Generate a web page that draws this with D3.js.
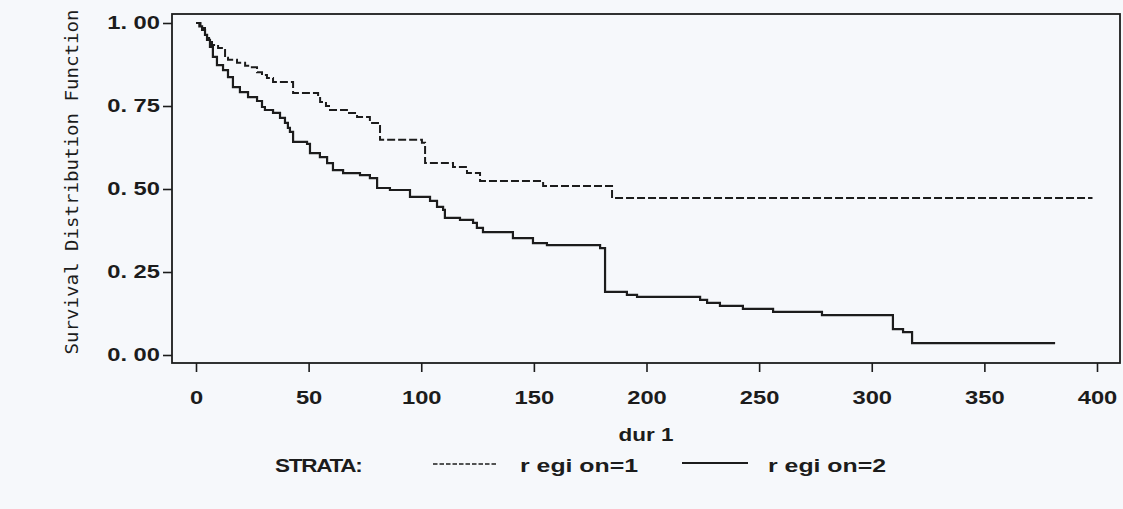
<!DOCTYPE html>
<html>
<head>
<meta charset="utf-8">
<script src="https://cdn.jsdelivr.net/npm/d3@7"></script>
<style>
  body { margin: 0; background: #f6f8fb; }
  svg { display: block; }
  text { font-family: "Liberation Sans", Arial, sans-serif; fill: #1c1c1c; }
</style>
</head>
<body>
<div id="chart"></div>
<script>
// tick values
const xTicks = [0, 50, 100, 150, 200, 250, 300, 350, 400];
const yTicks = [0, 0.25, 0.5, 0.75, 1];

// Kaplan-Meier steps (time, survival)
const region1Time = [0, 2, 3.1, 4.0, 4.9, 5.8, 7.1, 9.8, 11.5, 12.9, 14.2, 18.2, 21.8, 24.0, 27.1, 29.3, 31.5, 34.2,
  43.1, 54.2, 55.1, 57.7, 59.5, 67.0, 71.5, 77.2, 80.8, 81.7, 100.3, 101.7, 114.1, 120.3, 126.1, 154.1, 184.7, 398];
const region1Surv = [1, 0.992, 0.985, 0.970, 0.955, 0.943, 0.934, 0.925, 0.919, 0.895, 0.889, 0.880, 0.871, 0.867, 0.852, 0.843, 0.834, 0.822,
  0.789, 0.780, 0.762, 0.750, 0.738, 0.729, 0.717, 0.699, 0.690, 0.648, 0.639, 0.578, 0.566, 0.548, 0.524, 0.509, 0.473, 0.473];

const region2Time = [0, 1.5, 2.7, 4.0, 4.9, 6.2, 7.5, 9.3, 12.0, 14.2, 16.4, 19.5, 23.1, 27.1, 29.3, 30.6, 34.2, 37.3, 39.5, 40.8,
  41.7, 43.1, 49.3, 50.6, 55.0, 58.2, 60.8, 65.3, 72.8, 77.2, 80.4, 86.1, 95.0, 103.9, 107.0, 109.7, 110.5, 117.2, 123.0,
  124.7, 127.4, 140.7, 149.6, 155.8, 179.4, 181.6, 191.3, 195.8, 223.8, 226.9, 232.6, 242.8, 256.2, 277.9, 309.4, 313.9,
  317.9, 381.4];
const region2Surv = [1, 0.990, 0.979, 0.964, 0.949, 0.928, 0.898, 0.873, 0.858, 0.837, 0.807, 0.792, 0.777, 0.765, 0.747, 0.738, 0.729, 0.714, 0.699, 0.684,
  0.672, 0.642, 0.636, 0.608, 0.596, 0.578, 0.557, 0.548, 0.542, 0.533, 0.503, 0.497, 0.476, 0.464, 0.446, 0.437, 0.413, 0.407, 0.398,
  0.383, 0.370, 0.352, 0.337, 0.331, 0.322, 0.190, 0.181, 0.175, 0.166, 0.157, 0.148, 0.139, 0.130, 0.120, 0.078, 0.069,
  0.036, 0.036];

const strataTitle = 'STRATA:';
const strataLabels = ['r egi on=1', 'r egi on=2'];
const xTitle = 'dur 1';
const yTitle = 'Survival Distribution Function';

const width = 1123;
const height = 509;
const frame = { left: 172, right: 1120, top: 14, bottom: 363 };
const ink = '#1c1c1c';

const svg = d3.select('#chart')
  .append('svg')
  .attr('width', width)
  .attr('height', height);

const x = d3.scaleLinear().domain([0, 400]).range([196, 1097]);
const y = d3.scaleLinear().domain([0, 1]).range([355, 23]);

// y axis
const yAxis = svg.append('g')
  .attr('transform', `translate(${frame.left},0)`)
  .call(d3.axisLeft(y)
    .tickValues(yTicks)
    .tickSize(9)
    .tickPadding(3)
    .tickFormat(d => d3.format('.2f')(d).replace('.', '. ')));
yAxis.select('.domain').remove();
yAxis.selectAll('line').attr('stroke', ink).attr('stroke-width', 1.6);
yAxis.selectAll('text')
  .attr('x', -12 / 1.32)
  .attr('transform', 'scale(1.32,1)')
  .style('font-size', '18px')
  .style('font-weight', 'bold')
  .style('font-family', '"Liberation Sans", Arial, sans-serif')
  .attr('fill', ink);

// x axis
const xAxis = svg.append('g')
  .attr('transform', `translate(0,${frame.bottom})`)
  .call(d3.axisBottom(x)
    .tickValues(xTicks)
    .tickSize(9)
    .tickPadding(19));
xAxis.select('.domain').remove();
xAxis.selectAll('line').attr('stroke', ink).attr('stroke-width', 1.6);
xAxis.selectAll('text')
  .attr('transform', 'scale(1.32,1)')
  .style('font-size', '18px')
  .style('font-weight', 'bold')
  .style('font-family', '"Liberation Sans", Arial, sans-serif')
  .attr('fill', ink);

// frame
svg.append('rect')
  .attr('x', frame.left)
  .attr('y', frame.top)
  .attr('width', frame.right - frame.left)
  .attr('height', frame.bottom - frame.top)
  .attr('fill', 'none')
  .attr('stroke', ink)
  .attr('stroke-width', 1.8);

// survival curves
const step = d3.line()
  .x(d => x(d[0]))
  .y(d => y(d[1]))
  .curve(d3.curveStepAfter);

svg.append('path')
  .datum(d3.zip(region1Time, region1Surv))
  .attr('d', step)
  .attr('fill', 'none')
  .attr('stroke', ink)
  .attr('stroke-width', 2)
  .attr('stroke-dasharray', '8,3');

svg.append('path')
  .datum(d3.zip(region2Time, region2Surv))
  .attr('d', step)
  .attr('fill', 'none')
  .attr('stroke', ink)
  .attr('stroke-width', 2.2);

// axis titles
svg.append('text')
  .attr('transform', 'translate(78,182) rotate(-90)')
  .attr('text-anchor', 'middle')
  .attr('textLength', 345)
  .attr('lengthAdjust', 'spacingAndGlyphs')
  .style('font-family', '"DejaVu Sans Mono", monospace')
  .style('font-size', '18px')
  .attr('fill', '#2a2a2a')
  .text(yTitle);

svg.append('text')
  .attr('transform', `translate(${(frame.left + frame.right) / 2},441) scale(1.25,1)`)
  .attr('text-anchor', 'middle')
  .style('font-size', '18px')
  .style('font-weight', 'bold')
  .text(xTitle);

// legend
const legend = svg.append('g').attr('transform', 'translate(0,472)');
legend.append('text')
  .attr('transform', 'translate(275,0) scale(1.25,1)')
  .style('font-size', '18px')
  .style('font-weight', 'bold')
  .style('letter-spacing', '-1px')
  .text(strataTitle);

legend.append('line')
  .attr('x1', 433).attr('x2', 497)
  .attr('y1', -8).attr('y2', -8)
  .attr('stroke', ink)
  .attr('stroke-width', 1.6)
  .attr('stroke-dasharray', '4.5,2');
legend.append('text')
  .attr('transform', 'translate(520,0) scale(1.38,1)')
  .style('font-size', '18px')
  .style('font-weight', 'bold')
  .text(strataLabels[0]);

legend.append('line')
  .attr('x1', 682).attr('x2', 748)
  .attr('y1', -9).attr('y2', -9)
  .attr('stroke', ink)
  .attr('stroke-width', 1.8);
legend.append('text')
  .attr('transform', 'translate(768,0) scale(1.38,1)')
  .style('font-size', '18px')
  .style('font-weight', 'bold')
  .text(strataLabels[1]);
</script>
</body>
</html>
